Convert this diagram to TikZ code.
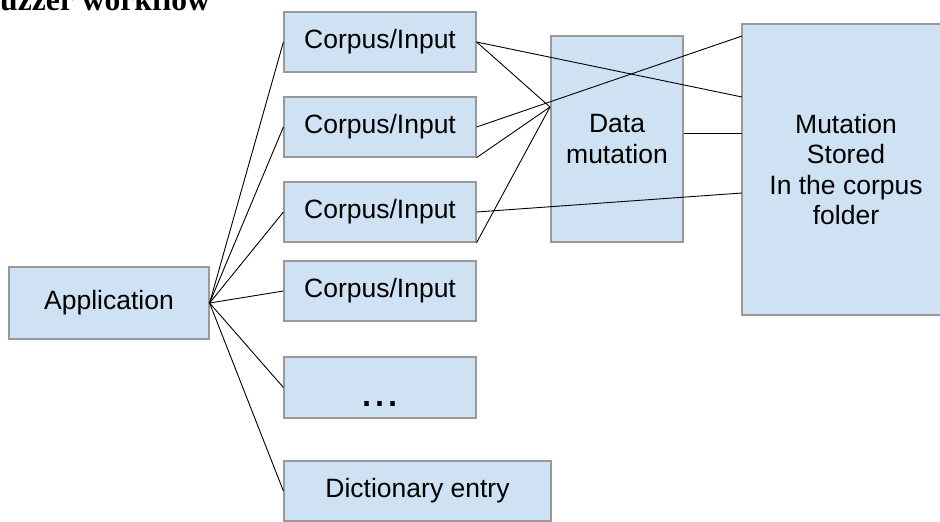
\documentclass[tikz,border=0pt]{standalone}
\usepackage{fontspec}
\setmainfont{Liberation Sans}
\newfontfamily\titlefont{Liberation Serif}
\usepackage{tikz}
\usetikzlibrary{calc}

\definecolor{boxfill}{HTML}{CFE2F3}
\definecolor{boxline}{HTML}{999999}

\tikzset{
  box/.style={rectangle, draw=boxline, fill=boxfill, line width=1.2pt, inner sep=0pt,
    align=center, font=\fontsize{26.5}{30.5}\selectfont},
  edge/.style={draw=black, line width=0.9pt}
}

\begin{document}
\begin{tikzpicture}[x=1pt, y=-1pt]
        \useasboundingbox (0,0) rectangle (940,522);
        \clip (0,0) rectangle (940,522);

        % Title
        \node[anchor=base west, inner sep=0pt, font=\titlefont\bfseries\fontsize{31.6}{34}\selectfont] (title) at (0,10) {uzzer workflow};

        % Draw boxes
        \node[box, minimum width=200, minimum height=72] (app) at (109,303) {Application};
        \node[box, minimum width=192, minimum height=60] (c1) at (380,42) {Corpus/Input};
        \node[box, minimum width=192, minimum height=60] (c2) at (380,127) {Corpus/Input};
        \node[box, minimum width=192, minimum height=60] (c3) at (380,212) {Corpus/Input};
        \node[box, minimum width=192, minimum height=60] (c4) at (380,291) {Corpus/Input};
        \node[box, minimum width=192, minimum height=61, text height=37pt, text depth=0pt,
          font=\fontsize{47}{50}\selectfont] (dots) at (380,387.5) {...};
        \node[box, minimum width=267, minimum height=60] (dict) at (417.5,491) {Dictionary entry};
        \node[box, minimum width=132, minimum height=206] (dm) at (617,139) {Data\\mutation};
        \node[box, minimum width=208, minimum height=291] (ms) at (846,169.5) {Mutation\\Stored\\In the corpus\\folder};

        % Connector ends
        \coordinate (hub) at (550,107);
        \coordinate (ms1) at (742,36);
        \coordinate (ms2) at (742,97);
        \coordinate (ms3) at (742,133);
        \coordinate (ms4) at (742,193);

        % Draw edges
        \draw[edge] (app.east) -- (c1.west);
        \draw[edge] (app.east) -- (c2.west);
        \draw[edge] (app.east) -- (c3.west);
        \draw[edge] (app.east) -- (c4.west);
        \draw[edge] (app.east) -- (dots.west);
        \draw[edge] (app.east) -- (dict.west);
        \draw[edge] (c1.east) -- (hub);
        \draw[edge] (c1.east) -- (ms2);
        \draw[edge] (c2.east) -- (ms1);
        \draw[edge] (c2.south east) -- (hub);
        \draw[edge] (c3.east) -- (ms4);
        \draw[edge] (c3.south east) -- (hub);
        \draw[edge] (dm.east |- ms3) -- (ms3);
\end{tikzpicture}
\end{document}
